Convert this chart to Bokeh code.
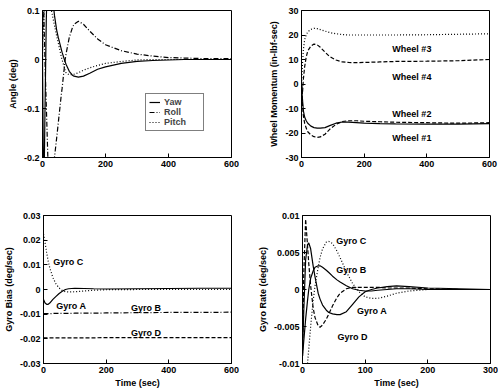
from bokeh.plotting import figure
from bokeh.layouts import column, row
from bokeh.models import (Range1d, FixedTicker, CustomJSTickFormatter,
                          Legend, LegendItem, Label)
from bokeh.embed import file_html
from bokeh.resources import INLINE

# ---------------- data ----------------
# Top-left: attitude angles (deg)
t_angle = [0, 2, 4, 8, 12, 17, 22, 27, 33, 38, 45, 50, 60, 62, 72, 75, 85, 95, 100, 114, 130, 150, 175, 200, 250, 300, 350, 400, 450, 500, 600]
yaw = [0, -0.15, -0.3, -0.1, 0.08, 0.2, 0.2, 0.16, 0.12, 0.09, 0.06, 0.045, 0.02, 0.015, -0.005, -0.01, -0.024, -0.032, -0.034, -0.036, -0.034, -0.028, -0.02, -0.015, -0.008, -0.004, -0.002, -0.001, 0.0, 0.0, 0.0]
roll = [0, 0.12, 0.1, -0.007, -0.093, -0.2, -0.27, -0.3, -0.26, -0.2, -0.16, -0.13, -0.07, -0.06, 0.0, 0.012, 0.045, 0.065, 0.072, 0.078, 0.072, 0.058, 0.042, 0.03, 0.018, 0.011, 0.007, 0.004, 0.003, 0.002, 0.002]
pitch = [0, 0.06, 0.08, 0.12, 0.13, 0.13, 0.12, 0.105, 0.085, 0.07, 0.048, 0.034, 0.005, 0.0, -0.022, -0.028, -0.031, -0.031, -0.03, -0.027, -0.022, -0.017, -0.012, -0.008, -0.004, -0.001, 0.0, 0.0, 0.0, 0.0, 0.0]

# Top-right: wheel momentum (in-lbf-sec)
t_wheel = [0, 3, 6, 10, 15, 20, 30, 40, 50, 60, 75, 90, 110, 130, 150, 175, 200, 250, 300, 400, 500, 600]
wheel1 = [0, -8, -13, -16, -18, -19.5, -20.8, -21.5, -21.8, -21.6, -20.5, -18.5, -16.5, -15.3, -15.0, -15.0, -15.2, -15.4, -15.6, -15.8, -16.0, -15.8]
wheel2 = [0, -6, -11, -13.5, -15, -16, -17.2, -17.8, -18, -18, -17.8, -17, -16, -15.5, -15.6, -15.8, -16, -16.2, -16.3, -16.4, -16.4, -16.2]
wheel3 = [0, 8, 14, 18, 20, 21.3, 22.3, 22.7, 22.6, 22.2, 21.6, 21, 20.5, 20.2, 20, 20, 20, 20, 20, 20.1, 20.3, 20.5]
wheel4 = [0, -4, 2, 7, 11, 13.5, 15.5, 16.3, 16, 15, 13, 11.2, 9.8, 9, 8.8, 8.7, 8.8, 9, 9.2, 9.3, 9.5, 10]

# Bottom-left: gyro bias (deg/sec)
t_bias = [0, 5, 10, 15, 20, 30, 40, 50, 60, 70, 80, 100, 130, 160, 200, 300, 400, 500, 600]
bias_a = [-0.004, -0.0055, -0.006, -0.006, -0.0055, -0.004, -0.0028, -0.0016, -0.0007, 0.0, 0.0003, 0.0005, 0.0004, 0.0003, 0.0002, 0.0003, 0.0004, 0.0005, 0.0005]
bias_b = [-0.0098, -0.0098, -0.0098, -0.0098, -0.0098, -0.0097, -0.0097, -0.0097, -0.0097, -0.0097, -0.0097, -0.0096, -0.0096, -0.0096, -0.0095, -0.0094, -0.0093, -0.0093, -0.0092]
bias_c = [0.0225, 0.019, 0.015, 0.0115, 0.0088, 0.0048, 0.0022, 0.0006, -0.0004, -0.0009, -0.001, -0.0009, -0.0006, -0.0003, -0.0001, 0.0, 0.0, 0.0, 0.0]
bias_d = [-0.0196, -0.0196, -0.0196, -0.0196, -0.0196, -0.0196, -0.0196, -0.0196, -0.0196, -0.0196, -0.0196, -0.0196, -0.0196, -0.0196, -0.0195, -0.0195, -0.0195, -0.0195, -0.0195]

# Bottom-right: gyro rate (deg/sec)
t_rate = [0, 2, 5, 8, 10, 13, 17, 20, 25, 28, 32, 38, 42, 48, 55, 60, 70, 80, 90, 100, 110, 120, 135, 150, 170, 200, 250, 300]
rate_a = [-0.0085, -0.003, 0.004, 0.006, 0.0063, 0.0055, 0.0032, 0.0017, -0.0005, -0.0013, -0.0021, -0.0028, -0.0031, -0.0033, -0.0034, -0.0034, -0.003, -0.002, -0.001, -0.0003, 0.0, 0.0002, 0.0004, 0.0005, 0.0004, 0.0002, 0.0001, 0.0]
rate_b = [-0.009, -0.007, -0.004, -0.0015, 0.0, 0.0015, 0.0025, 0.003, 0.0032, 0.0032, 0.003, 0.0026, 0.0023, 0.0018, 0.0013, 0.001, 0.0005, 0.0001, -0.0001, -0.0002, -0.0002, -0.0001, 0.0, 0.0001, 0.0001, 0.0, 0.0, 0.0]
rate_c = [-0.014, -0.013, -0.012, -0.01, -0.008, -0.005, -0.0015, 0.0005, 0.003, 0.0043, 0.0055, 0.0064, 0.0065, 0.0062, 0.0052, 0.0043, 0.0024, 0.0008, -0.0003, -0.001, -0.0012, -0.0012, -0.0009, -0.0005, -0.0002, 0.0, 0.0, 0.0]
rate_d = [-0.009, 0.002, 0.0095, 0.006, 0.0035, 0.0005, -0.0025, -0.0038, -0.0049, -0.0051, -0.0048, -0.004, -0.0033, -0.0022, -0.0011, -0.0005, 0.0001, 0.0003, 0.0003, 0.0003, 0.0003, 0.0003, 0.0002, 0.0002, 0.0002, 0.0001, 0.0, 0.0]

# tick labels
x_ticks_600 = [0, 200, 400, 600]
x_ticks_300 = [0, 100, 200, 300]
angle_ticks = [-0.2, -0.1, 0, 0.1]
wheel_ticks = [-30, -20, -10, 0, 10, 20, 30]
bias_ticks = [-0.03, -0.02, -0.01, 0, 0.01, 0.02, 0.03]
rate_ticks = [-0.01, -0.005, 0, 0.005, 0.01]

FONT = "Liberation Sans"
FS = "9px"
SOLID, DASH, DOT, DASHDOT = "solid", "4 2", "1 2", "5 2 1 2"

fmt_code = """
if (Math.abs(tick) < 1e-12) { return "0"; }
return String(parseFloat(tick.toPrecision(6)));
"""


def make_fig(w, h, xr, yr, xt, yt, bl, br, bt, bb, ylabel, xlabel=None):
    p = figure(width=w, height=h, x_range=Range1d(*xr), y_range=Range1d(*yr),
               output_backend="svg", toolbar_location=None,
               min_border_left=bl, min_border_right=br,
               min_border_top=bt, min_border_bottom=bb)
    p.grid.visible = False
    p.outline_line_color = "black"
    p.outline_line_width = 1
    p.background_fill_color = "white"
    p.border_fill_color = "white"
    for ax, ticks in ((p.xaxis[0], xt), (p.yaxis[0], yt)):
        ax.ticker = FixedTicker(ticks=ticks)
        ax.formatter = CustomJSTickFormatter(code=fmt_code)
        ax.major_tick_in = 4
        ax.major_tick_out = 0
        ax.minor_tick_line_color = None
        ax.axis_line_color = "black"
        ax.major_tick_line_color = "black"
        ax.major_label_text_font = FONT
        ax.major_label_text_font_style = "bold"
        ax.major_label_text_font_size = FS
        ax.major_label_text_color = "black"
        ax.major_label_standoff = 3
        ax.axis_label_text_font = FONT
        ax.axis_label_text_font_style = "bold"
        ax.axis_label_text_font_size = FS
        ax.axis_label_text_color = "black"
        ax.axis_label_standoff = 3
    p.yaxis[0].axis_label = ylabel
    if xlabel:
        p.xaxis[0].axis_label = xlabel
        p.xaxis[0].axis_label_standoff = 2
    return p


def txt(p, x, y, s):
    p.add_layout(Label(x=x, y=y, text=s, text_font=FONT, text_font_style="bold",
                       text_font_size=FS, text_color="black", text_align="left",
                       text_baseline="middle"))


LW = 1.2

# ---- Top-left ----
p1 = make_fig(249, 190, (0, 600), (-0.2, 0.1), x_ticks_600, angle_ticks,
              42, 18, 10, 33, "Angle (deg)")
r_yaw = p1.line(t_angle, yaw, line_color="black", line_width=LW, line_dash=SOLID)
r_roll = p1.line(t_angle, roll, line_color="black", line_width=LW, line_dash=DASHDOT)
r_pitch = p1.line(t_angle, pitch, line_color="black", line_width=LW, line_dash=DOT)
leg = Legend(items=[LegendItem(label="Yaw", renderers=[r_yaw]),
                    LegendItem(label="Roll", renderers=[r_roll]),
                    LegendItem(label="Pitch", renderers=[r_pitch])],
             location=(103, 26), margin=0, padding=3, spacing=0,
             glyph_width=11, glyph_height=10, label_height=10, label_width=36,
             label_standoff=4, label_text_font=FONT, label_text_font_style="bold",
             label_text_font_size=FS, border_line_color="black", border_line_width=1,
             background_fill_alpha=1)
p1.add_layout(leg, "center")

# ---- Top-right ----
p2 = make_fig(249, 190, (0, 600), (-30, 30), x_ticks_600, wheel_ticks,
              52, 9, 7, 33, "Wheel Momentum (in-lbf-sec)")
p2.line(t_wheel, wheel3, line_color="black", line_width=LW, line_dash=DOT)
p2.line(t_wheel, wheel4, line_color="black", line_width=LW, line_dash=DASH)
p2.line(t_wheel, wheel2, line_color="black", line_width=LW, line_dash=SOLID)
p2.line(t_wheel, wheel1, line_color="black", line_width=LW, line_dash=DASH)
txt(p2, 290, 14.1, "Wheel #3")
txt(p2, 290, 2.9, "Wheel #4")
txt(p2, 290, -12.3, "Wheel #2")
txt(p2, 290, -22.1, "Wheel #1")

# ---- Bottom-left ----
p3 = make_fig(249, 201, (0, 600), (-0.03, 0.03), x_ticks_600, bias_ticks,
              42, 18, 25, 28, "Gyro Bias (deg/sec)", "Time (sec)")
p3.line(t_bias, bias_c, line_color="black", line_width=LW, line_dash=DOT)
p3.line(t_bias, bias_a, line_color="black", line_width=LW, line_dash=SOLID)
p3.line(t_bias, bias_b, line_color="black", line_width=LW, line_dash=DASHDOT)
p3.line(t_bias, bias_d, line_color="black", line_width=LW, line_dash=DASH)
txt(p3, 31, 0.0111, "Gyro C")
txt(p3, 41, -0.0068, "Gyro A")
txt(p3, 279, -0.0074, "Gyro B")
txt(p3, 279, -0.0175, "Gyro D")

# ---- Bottom-right ----
p4 = make_fig(249, 201, (0, 300), (-0.01, 0.01), x_ticks_300, rate_ticks,
              53, 8, 25, 28, "Gyro Rate (deg/sec)", "Time (sec)")
p4.line(t_rate, rate_c, line_color="black", line_width=LW, line_dash=DOT)
p4.line(t_rate, rate_d, line_color="black", line_width=LW, line_dash=DASH)
p4.line(t_rate, rate_b, line_color="black", line_width=LW, line_dash=SOLID)
p4.line(t_rate, rate_a, line_color="black", line_width=LW, line_dash=SOLID)
txt(p4, 54, 0.0065, "Gyro C")
txt(p4, 54, 0.0026, "Gyro B")
txt(p4, 87, -0.0029, "Gyro A")
txt(p4, 56, -0.0064, "Gyro D")

layout = column(row(p1, p2, spacing=0), row(p3, p4, spacing=0), spacing=0)
open("out.html", "w").write(file_html(layout, INLINE))
